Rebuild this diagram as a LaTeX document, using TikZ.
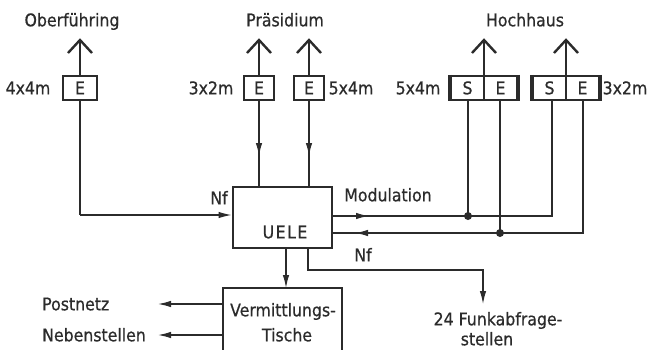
\documentclass[tikz,border=0pt]{standalone}
\usepackage{fontspec}
\setmainfont{DejaVu Sans}[FakeStretch=0.9,FakeBold=0.6]
\usetikzlibrary{arrows.meta}
\definecolor{ink}{HTML}{2B2B2B}
\tikzset{
  txt/.style={inner sep=0pt, text=ink, font=\fontsize{17.5}{20}\selectfont, text height=12.6pt, text depth=0pt},
  wire/.style={draw=ink, line width=1.3pt},
  tip/.style={-{Latex[length=13pt,width=6.5pt]}},
  antenna/.style={draw=ink, line width=2.4pt},
  cell/.style={txt, draw=ink, line width=2.5pt, minimum height=24pt},
  bigbox/.style={draw=ink, line width=2.8pt, inner sep=0pt},
  dot/.style={fill=ink}
}
\begin{document}
\begin{tikzpicture}[x=1pt,y=-1pt]
\useasboundingbox[fill=white] (0,0) rectangle (653,349);

% headings
\node[txt] (hOber) at (72,20) {Oberführing};
\node[txt] (hPraes) at (285,20) {Präsidium};
\node[txt] (hHoch) at (525,20) {Hochhaus};

% antenna boxes
\node[cell, minimum width=34pt] (o1) at (80,88) {E};
\node[cell, minimum width=30pt] (p1) at (259,88) {E};
\node[cell, minimum width=30pt] (p2) at (309,88) {E};
\node[cell, minimum width=33pt] (h1s) at (467.5,88) {S};
\node[cell, minimum width=33pt] (h1e) at (500.5,88) {E};
\node[cell, minimum width=33pt] (h2s) at (549.5,88) {S};
\node[cell, minimum width=33pt] (h2e) at (582.5,88) {E};
\draw[ink, line width=3.6pt] (h1s.north west) -- (h1s.south west);
\draw[ink, line width=3.6pt] (h1e.north east) -- (h1e.south east);
\draw[ink, line width=3.6pt] (h2s.north west) -- (h2s.south west);
\draw[ink, line width=3.6pt] (h2e.north east) -- (h2e.south east);

% size labels
\node[txt] (l1) at (28,88) {4x4m};
\node[txt] (l2) at (211,88) {3x2m};
\node[txt] (l3) at (351,88) {5x4m};
\node[txt] (l4) at (418,88) {5x4m};
\node[txt] (l5) at (625,88) {3x2m};

% antennas
\coordinate (ao) at (80,40);
\coordinate (ap1) at (259,40);
\coordinate (ap2) at (309,40);
\coordinate (ah1) at (484,40);
\coordinate (ah2) at (566,40);
\foreach \a in {ao,ap1,ap2,ah1,ah2}{
  \draw[antenna] (\a) ++(-12,13) -- (\a) -- ++(12,13);
}
\draw[wire] (ao) -- (o1.north);
\draw[wire] (ap1) -- (p1.north);
\draw[wire] (ap2) -- (p2.north);
\draw[wire] (ah1) -- (ah1 |- h1s.north);
\draw[wire] (ah2) -- (ah2 |- h2s.north);

% UELE
\node[bigbox, minimum width=99pt, minimum height=61pt] (uele) at (282.5,217.5) {};
\node[txt] (ueletxt) at (285,232) {U\kern1.5pt E\kern1.5pt L\kern1.5pt E};
\node[txt] (nfl) at (219,198) {Nf};
\node[txt] (modl) at (388,195) {Modulation};
\node[txt] (nfr) at (363,255) {Nf};

% Oberfuehring feed
\coordinate (ocorner) at (80,215);
\draw[wire] (o1.south) -- (ocorner);
\draw[wire, tip] (ocorner) -- (ocorner -| uele.west);

% Praesidium feeds
\draw[wire] (p1.south) -- (p1.south |- uele.north);
\draw[wire, tip] (p1.south) -- (259,156);
\draw[wire] (p2.south) -- (p2.south |- uele.north);
\draw[wire, tip] (p2.south) -- (309,156);

% Modulation bus
\coordinate (modcorner) at (552,216);
\coordinate (mdot) at (468,216);
\draw[wire] (uele.east |- modcorner) -- (modcorner) -- (modcorner |- h2s.south);
\draw[wire, tip] (uele.east |- modcorner) -- (369,216);
\draw[wire] (468,100) -- (mdot);
\fill[dot] (mdot) circle (4);

% Nf return bus
\coordinate (nfcorner) at (583,233);
\coordinate (ndot) at (500,233);
\draw[wire] (nfcorner |- h2e.south) -- (nfcorner) -- (uele.east |- nfcorner);
\draw[wire, tip] (385,233) -- (355,233);
\draw[wire] (500,100) -- (ndot);
\fill[dot] (ndot) circle (4);

% Vermittlungstische
\node[bigbox, minimum width=119pt, minimum height=92pt] (vt) at (282.5,334) {};
\node[txt] (vt1) at (283,310) {Vermittlungs-};
\node[txt] (vt2) at (287,335) {Tische};
\draw[wire, tip] (286,248) -- (286,288);

\node[txt, anchor=west] (post) at (42,304) {Postnetz};
\node[txt, anchor=west] (neben) at (42,335) {Nebenstellen};
\draw[wire, tip] (vt.west |- 0,304) -- (158,304);
\draw[wire, tip] (vt.west |- 0,335) -- (158,335);

% Funkabfragestellen
\draw[wire, tip] (308,248) -- (308,270) -- (483,270) -- (483,304);
\node[txt] (fu1) at (498,319) {24 Funkabfrage-};
\node[txt] (fu2) at (487,339) {stellen};
\end{tikzpicture}
\end{document}
